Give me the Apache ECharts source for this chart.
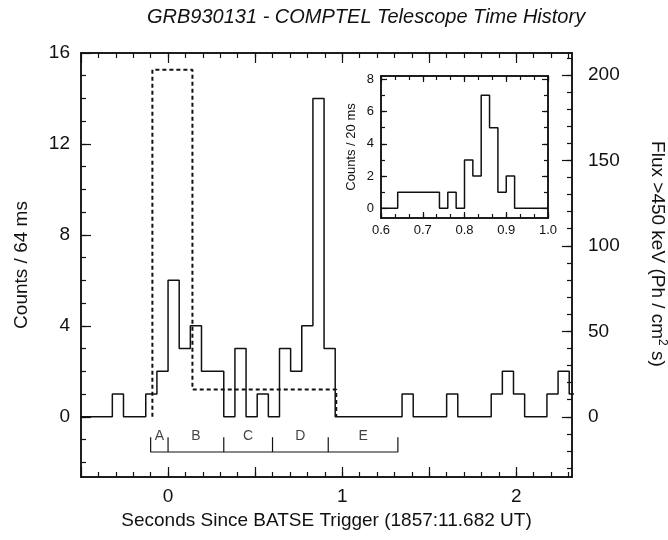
<!DOCTYPE html>
<html>
<head>
<meta charset="utf-8">
<title>GRB930131 - COMPTEL Telescope Time History</title>
<script src="https://cdn.jsdelivr.net/npm/echarts@6/dist/echarts.min.js"></script>
<style>
  html, body { margin: 0; padding: 0; background: #fff; }
  #chart { width: 668px; height: 540px; }
</style>
</head>
<body>
<div id="chart"></div>
<script>
// COMPTEL counts in 64 ms bins, first bin starts at -0.512 s
const binStart64 = -0.512
const binWidth64 = 0.064
const counts64 = [0, 0, 0, 1, 0, 0, 1, 2,
  6, 3, 4, 2, 2, 0, 3, 0, 1, 0, 3, 2, 4, 14, 3,
  0, 0, 0, 0, 0, 0, 1, 0, 0, 0, 1, 0, 0, 0, 1, 2, 1, 0, 0, 1, 2, 1]

// inset: 20 ms bins from 0.60 s
const binStart20 = 0.6
const binWidth20 = 0.02
const counts20 = [0, 0, 1, 1, 1, 1, 1, 0, 1, 0, 3, 2, 7, 5, 1, 2, 0, 0, 0, 0]

// flux >450 keV (dashed), constant level between edges
const fluxEdges = [-0.09, 0.14, 0.966]
const fluxLevels = [203, 16]

// interval brackets A..E
const segEdges = [-0.1, 0.0, 0.32, 0.6, 0.92, 1.32]
const segNames = ['A', 'B', 'C', 'D', 'E']

// axes
const xRange = [-0.5, 2.32]
const countRange = [-2.65, 16]
const fluxPerCount = 13.3
const xMajor = [-0.5, 0, 0.5, 1, 1.5, 2]
const xLabels = [0, 1, 2]
const countMajor = [0, 4, 8, 12, 16]
const fluxMajor = [0, 50, 100, 150, 200]
const insetXRange = [0.6, 1.0]
const insetYRange = [-0.6, 8.2]
const insetXMajor = [0.6, 0.7, 0.8, 0.9, 1.0]
const insetYMajor = [0, 2, 4, 6, 8]

const ink = '#111'
const font = 'Liberation Sans, Arial, Helvetica, sans-serif'

function range(a, b, step) {
  const out = []
  for (let v = a; v <= b + step / 1000; v += step) out.push(+v.toFixed(4))
  return out
}

function stepPoints(start, width, vals) {
  const pts = vals.map((v, i) => [+(start + i * width).toFixed(4), v])
  pts.push([+(start + vals.length * width).toFixed(4), vals[vals.length - 1]])
  return pts
}

// one axis = one set of inward ticks (major or minor), optional labels
function axis(grid, pos, rng, ticks, len, labels, extra) {
  const a = {
    type: 'value',
    gridIndex: grid,
    position: pos,
    min: rng[0],
    max: rng[1],
    axisLine: { show: true, onZero: false, lineStyle: { color: ink, width: 1.5 } },
    axisTick: { show: true, inside: true, length: len, customValues: ticks, lineStyle: { color: ink, width: 1.2 } },
    axisLabel: labels
      ? { show: true, customValues: labels, color: ink, fontFamily: font, fontSize: 19 }
      : { show: false },
    splitLine: { show: false }
  }
  return Object.assign(a, extra || {})
}

const fluxRange = [countRange[0] * fluxPerCount, countRange[1] * fluxPerCount]

const xAxes = [
  axis(0, 'bottom', xRange, xMajor, 10, xLabels, {
    name: 'Seconds Since BATSE Trigger (1857:11.682 UT)',
    nameLocation: 'middle',
    nameGap: 25,
    nameTextStyle: { color: ink, fontFamily: font, fontSize: 19 }
  }),
  axis(0, 'bottom', xRange, range(-0.4, 2.3, 0.1), 5),
  axis(0, 'top', xRange, xMajor, 10),
  axis(0, 'top', xRange, range(-0.4, 2.3, 0.1), 5),
  axis(1, 'bottom', insetXRange, insetXMajor, 6, insetXMajor),
  axis(1, 'bottom', insetXRange, range(0.6, 1.0, 1 / 30), 4),
  axis(1, 'top', insetXRange, insetXMajor, 6),
  axis(1, 'top', insetXRange, range(0.6, 1.0, 1 / 30), 4)
]
xAxes[0].axisLabel.margin = 10
Object.assign(xAxes[4].axisLabel, { fontSize: 13, margin: 6, formatter: v => v.toFixed(1) })

const yAxes = [
  axis(0, 'left', countRange, countMajor, 10, countMajor, {
    name: 'Counts / 64 ms',
    nameLocation: 'middle',
    nameGap: 50,
    nameTextStyle: { color: ink, fontFamily: font, fontSize: 19 }
  }),
  axis(0, 'left', countRange, range(-2, 15, 1), 5),
  axis(0, 'right', fluxRange, fluxMajor, 10, fluxMajor, {
    name: 'Flux >450 keV (Ph / cm{sup|2} s)',
    nameLocation: 'middle',
    nameRotate: -90,
    nameGap: 74,
    nameTextStyle: {
      color: ink, fontFamily: font, fontSize: 19,
      padding: [0, 22, 0, 0],
      rich: { sup: { fontSize: 12, fontFamily: font, color: ink, padding: [0, 0, 10, 0] } }
    }
  }),
  axis(0, 'right', fluxRange, range(-30, 210, 10), 5),
  axis(1, 'left', insetYRange, insetYMajor, 6, insetYMajor, {
    name: 'Counts / 20 ms',
    nameLocation: 'middle',
    nameGap: 23,
    nameTextStyle: { color: ink, fontFamily: font, fontSize: 13 }
  }),
  axis(1, 'left', insetYRange, range(1, 7, 1), 4),
  axis(1, 'right', insetYRange, insetYMajor, 6),
  axis(1, 'right', insetYRange, range(1, 7, 1), 4)
]
yAxes[0].axisLabel.margin = 11
yAxes[2].axisLabel.margin = 16
Object.assign(yAxes[4].axisLabel, { fontSize: 13, margin: 7 })

// dashed flux trace
const fluxPts = [[fluxEdges[0], 0]]
fluxLevels.forEach((lv, i) => {
  fluxPts.push([fluxEdges[i], lv], [fluxEdges[i + 1], lv])
})
fluxPts.push([fluxEdges[fluxEdges.length - 1], 0])

// bracket under the curve
const segBase = -1.55
const segTop = -0.9
const segPts = []
segEdges.forEach((e, i) => {
  if (i > 0) segPts.push([e, segBase])
  segPts.push([e, segTop], [e, segBase])
})
const segLabels = segNames.map((n, i) => ({
  name: n,
  value: [(segEdges[i] + segEdges[i + 1]) / 2, -0.85]
}))

const chart = echarts.init(document.getElementById('chart'))
chart.setOption({
  animation: false,
  backgroundColor: '#fff',
  title: {
    text: 'GRB930131 - COMPTEL Telescope Time History',
    left: 147,
    top: 7,
    padding: 0,
    textStyle: { fontFamily: font, fontStyle: 'italic', fontWeight: 'normal', fontSize: 20, color: ink }
  },
  grid: [
    { left: 81, right: 96, top: 53, bottom: 63, outerBoundsMode: 'none' },
    { left: 381, top: 76, width: 167, height: 142, outerBoundsMode: 'none', show: true, backgroundColor: '#fff', borderWidth: 0 }
  ],
  xAxis: xAxes,
  yAxis: yAxes,
  series: [
    {
      type: 'line',
      xAxisIndex: 0,
      yAxisIndex: 0,
      step: 'end',
      symbol: 'none',
      data: stepPoints(binStart64, binWidth64, counts64),
      lineStyle: { color: ink, width: 1.5 }
    },
    {
      type: 'line',
      xAxisIndex: 0,
      yAxisIndex: 2,
      symbol: 'none',
      data: fluxPts,
      lineStyle: { color: ink, width: 2, type: [4, 3] }
    },
    {
      type: 'line',
      xAxisIndex: 0,
      yAxisIndex: 0,
      symbol: 'none',
      data: segPts,
      lineStyle: { color: ink, width: 1.2 }
    },
    {
      type: 'scatter',
      xAxisIndex: 0,
      yAxisIndex: 0,
      symbolSize: 1,
      itemStyle: { color: 'rgba(0,0,0,0)' },
      data: segLabels,
      label: {
        show: true,
        position: 'inside',
        formatter: p => p.name,
        color: ink,
        fontFamily: font,
        fontSize: 14
      }
    },
    {
      type: 'line',
      xAxisIndex: 4,
      yAxisIndex: 4,
      step: 'end',
      symbol: 'none',
      data: stepPoints(binStart20, binWidth20, counts20),
      lineStyle: { color: ink, width: 1.5 }
    }
  ]
})
</script>
</body>
</html>
